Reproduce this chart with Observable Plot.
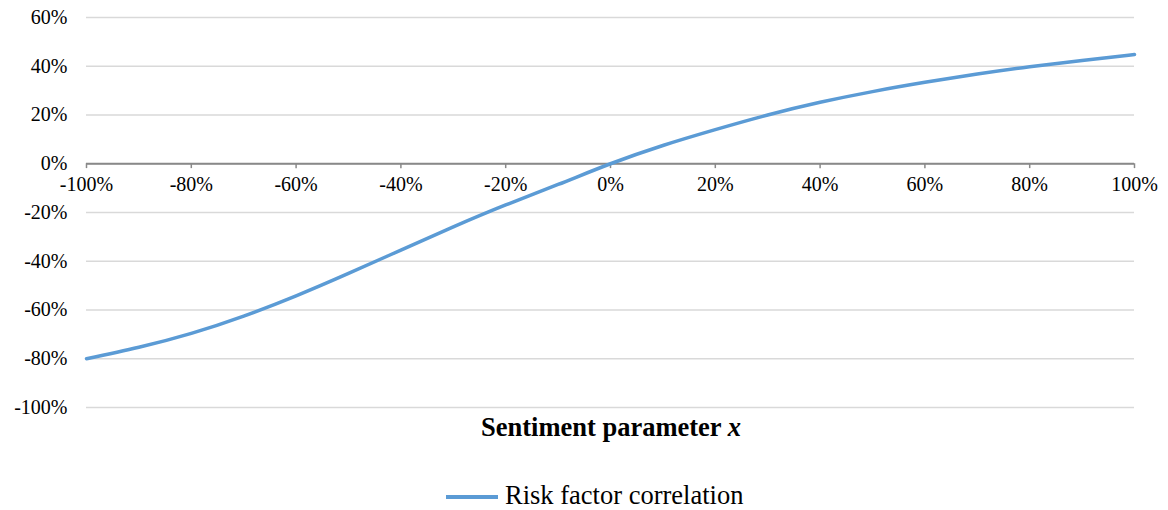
<!DOCTYPE html>
<html>
<head>
<meta charset="utf-8">
<script src="https://cdn.jsdelivr.net/npm/d3@7"></script>
<script src="https://cdn.jsdelivr.net/npm/@observablehq/plot@0.6"></script>
<style>
  body { margin: 0; background: #fff; }
  #wrap { position: relative; width: 1168px; height: 510px; font-family: "Liberation Serif", "Times New Roman", serif; color: #000; }
  #wrap svg { position: absolute; left: 0; top: 0; overflow: visible; }
  #wrap svg text { font-family: "Liberation Serif", "Times New Roman", serif !important; }
  #title { position: absolute; left: 0; width: 1222px; top: 414px; text-align: center; font-weight: bold; font-size: 26.5px; line-height: 26px; }
  #legend { position: absolute; left: 446px; top: 482px; font-size: 26.5px; line-height: 26px; white-space: nowrap; }
  #legend .swatch { display: inline-block; width: 52px; height: 3.5px; background: #5b9bd5; vertical-align: middle; margin-right: 7px; position: relative; top: -1px; }
</style>
</head>
<body>
<div id="wrap">
  <div id="title">Sentiment parameter <i>x</i></div>
  <div id="legend"><span class="swatch"></span>Risk factor correlation</div>
</div>
<script>
// Sentiment parameter x (%) and the resulting risk factor correlation (%)
const sentiment = [-100, -90, -80, -70, -60, -50, -40, -30, -20, -10, 0, 10, 20, 30, 40, 50, 60, 70, 80, 90, 100];
const correlation = [-80, -75.3, -69.6, -62.5, -54.2, -45, -35.4, -25.9, -16.9, -8.5, 0, 7.5, 14, 20, 25.2, 29.6, 33.4, 36.8, 39.8, 42.4, 44.8];

// Axis ticks (%)
const xTicks = [-100, -80, -60, -40, -20, 0, 20, 40, 60, 80, 100];
const yTicks = [-100, -80, -60, -40, -20, 0, 20, 40, 60];

const data = sentiment.map((x, i) => ({x, y: correlation[i]}));
const pct = d => `${d}%`;

const chart = Plot.plot({
  width: 1168,
  height: 412,
  marginTop: 17,
  marginBottom: 5,
  marginLeft: 86,
  marginRight: 34,
  style: {fontFamily: "'Liberation Serif', 'Times New Roman', serif", fontSize: "20px", color: "#000", background: "transparent"},
  x: {domain: [-100, 100], axis: null},
  y: {domain: [-100, 60]},
  marks: [
    Plot.gridY(yTicks, {stroke: "#d9d9d9", strokeOpacity: 1, strokeWidth: 1.4}),
    Plot.axisY(yTicks, {tickSize: 0, tickPadding: 19, tickFormat: pct, label: null, fontSize: 20}),
    Plot.ruleY([0], {stroke: "#898989", strokeWidth: 2}),
    Plot.ruleX(xTicks, {x: d => d, y1: 0, y2: -2, stroke: "#898989", strokeWidth: 1.5}),
    Plot.text(xTicks, {x: d => d, y: 0, dy: 21, text: pct, fontSize: 20, fill: "#000"}),
    Plot.line(data, {x: "x", y: "y", stroke: "#5b9bd5", strokeWidth: 3.5, curve: "natural", strokeLinecap: "round"})
  ]
});

document.getElementById("wrap").prepend(chart);
</script>
</body>
</html>
